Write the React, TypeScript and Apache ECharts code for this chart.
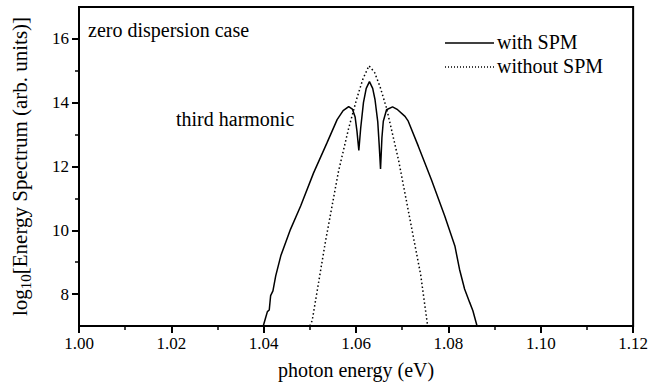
import React, { useEffect, useRef } from "react";
import * as echarts from "echarts";

// photon energy (eV) / log10 energy spectrum
const withSpmX = [
  1.0399, 1.0404, 1.0408, 1.0412, 1.0415, 1.042, 1.0426, 1.0437, 1.0458, 1.048,
  1.0508, 1.0537, 1.0559, 1.0572, 1.0584, 1.0592, 1.0598, 1.0602, 1.0606, 1.061,
  1.0616, 1.0622, 1.0629, 1.0636, 1.0641, 1.0647, 1.065, 1.0653, 1.0656, 1.0659,
  1.0666, 1.0679, 1.069, 1.0706, 1.0713, 1.0735, 1.0763, 1.0792, 1.0814, 1.0824,
  1.0835, 1.0846, 1.0853, 1.0862,
];
const withSpmY = [
  7.0, 7.25, 7.45, 7.5, 7.95, 8.1, 8.57, 9.2, 10.03, 10.76,
  11.8, 12.74, 13.47, 13.75, 13.88, 13.8, 13.55, 13.1, 12.5, 13.2,
  14.0, 14.45, 14.66, 14.45, 14.1, 13.4, 12.7, 11.92, 12.9, 13.42,
  13.78, 13.87, 13.78, 13.57, 13.42, 12.63, 11.59, 10.45, 9.51, 8.78,
  8.16, 7.74, 7.48, 7.0,
];
const withoutSpmX = [
  1.05, 1.0505, 1.0534, 1.0562, 1.0584, 1.0602, 1.0615, 1.0628, 1.064, 1.0652,
  1.0666, 1.0692, 1.072, 1.074, 1.0755,
];
const withoutSpmY = [
  7.0, 7.17, 9.67, 11.85, 13.2, 14.15, 14.75, 15.16, 14.95, 14.5,
  13.83, 12.2, 10.1, 8.6, 7.0,
];
const xTicks = [1.0, 1.02, 1.04, 1.06, 1.08, 1.1, 1.12];
const yMajorTicks = [8, 10, 12, 14, 16];
const yMinorTicks = [9, 11, 13, 15];

const FONT = "'Liberation Serif', 'Times New Roman', serif";

export default function App() {
  const ref = useRef<HTMLDivElement>(null);
  useEffect(() => {
    if (!ref.current) return;
    const chart = echarts.init(ref.current, undefined, { renderer: "svg" });
    const solid = withSpmX.map((x, i) => [x, withSpmY[i]]);
    const dotted = withoutSpmX.map((x, i) => [x, withoutSpmY[i]]);
    chart.setOption({
      animation: false,
      backgroundColor: "#fff",
      textStyle: { fontFamily: FONT },
      grid: {
        left: 79,
        right: 15,
        top: 7,
        bottom: 58,
        show: true,
        borderColor: "#000",
        borderWidth: 2,
      },
      xAxis: {
        type: "value",
        min: xTicks[0],
        max: xTicks[xTicks.length - 1],
        interval: 0.02,
        name: "photon energy (eV)",
        nameLocation: "middle",
        nameGap: 34,
        nameTextStyle: { fontFamily: FONT, fontSize: 20, color: "#000" },
        axisLine: { show: true, lineStyle: { color: "#000", width: 2 } },
        axisTick: { show: true, length: 7, lineStyle: { color: "#000", width: 2 } },
        minorTick: { show: true, splitNumber: 2, length: 4, lineStyle: { color: "#000", width: 1.5 } },
        axisLabel: {
          margin: 9,
          fontFamily: FONT,
          fontSize: 17,
          color: "#000",
          formatter: (v: number) => v.toFixed(2),
        },
        splitLine: { show: false },
      },
      yAxis: [
        {
          type: "value",
          min: 7,
          max: 17,
          name: "{a|log}{sub|10}{a|[Energy Spectrum (arb. units)]}",
          nameLocation: "middle",
          nameRotate: 90,
          nameGap: 46,
          nameTextStyle: {
            fontFamily: FONT,
            fontSize: 21,
            color: "#000",
            rich: {
              a: { fontFamily: FONT, fontSize: 21, color: "#000", lineHeight: 27 },
              sub: { fontFamily: FONT, fontSize: 15, color: "#000", lineHeight: 15, verticalAlign: "bottom" },
            },
          },
          axisLine: { show: true, lineStyle: { color: "#000", width: 2 } },
          axisTick: { show: true, length: 7, customValues: yMajorTicks, lineStyle: { color: "#000", width: 2 } },
          axisLabel: {
            margin: 10,
            fontFamily: FONT,
            fontSize: 17,
            color: "#000",
            customValues: yMajorTicks,
          },
          splitLine: { show: false },
        },
        {
          type: "value",
          min: 7,
          max: 17,
          position: "left",
          axisLine: { show: false },
          axisTick: { show: true, length: 4, customValues: yMinorTicks, lineStyle: { color: "#000", width: 1.5 } },
          axisLabel: { show: false },
          splitLine: { show: false },
        },
      ],
      series: [
        {
          name: "with SPM",
          type: "line",
          data: solid,
          showSymbol: false,
          symbol: "none",
          lineStyle: { color: "#000", width: 1.5, type: "solid" },
        },
        {
          name: "without SPM",
          type: "line",
          data: dotted,
          showSymbol: false,
          symbol: "none",
          lineStyle: { color: "#000", width: 1.5, type: [1.5, 2.5] },
        },
      ],
      graphic: [
        {
          type: "text",
          left: 88,
          top: 20,
          style: { text: "zero dispersion case", fontFamily: FONT, fontSize: 20, fill: "#000" },
        },
        {
          type: "text",
          left: 176,
          top: 109,
          style: { text: "third harmonic", fontFamily: FONT, fontSize: 20, fill: "#000" },
        },
        {
          type: "line",
          shape: { x1: 445, y1: 43, x2: 494, y2: 43 },
          style: { stroke: "#000", lineWidth: 1.5 },
        },
        {
          type: "text",
          left: 497,
          top: 32,
          style: { text: "with SPM", fontFamily: FONT, fontSize: 20, fill: "#000" },
        },
        {
          type: "line",
          shape: { x1: 445, y1: 67, x2: 494, y2: 67 },
          style: { stroke: "#000", lineWidth: 1.5, lineDash: [1, 2] },
        },
        {
          type: "text",
          left: 497,
          top: 56,
          style: { text: "without SPM", fontFamily: FONT, fontSize: 20, fill: "#000" },
        },
      ],
    });
    return () => chart.dispose();
  }, []);
  return <div ref={ref} style={{ position: "fixed", left: 0, top: 0, width: 651, height: 385 }} />;
}
